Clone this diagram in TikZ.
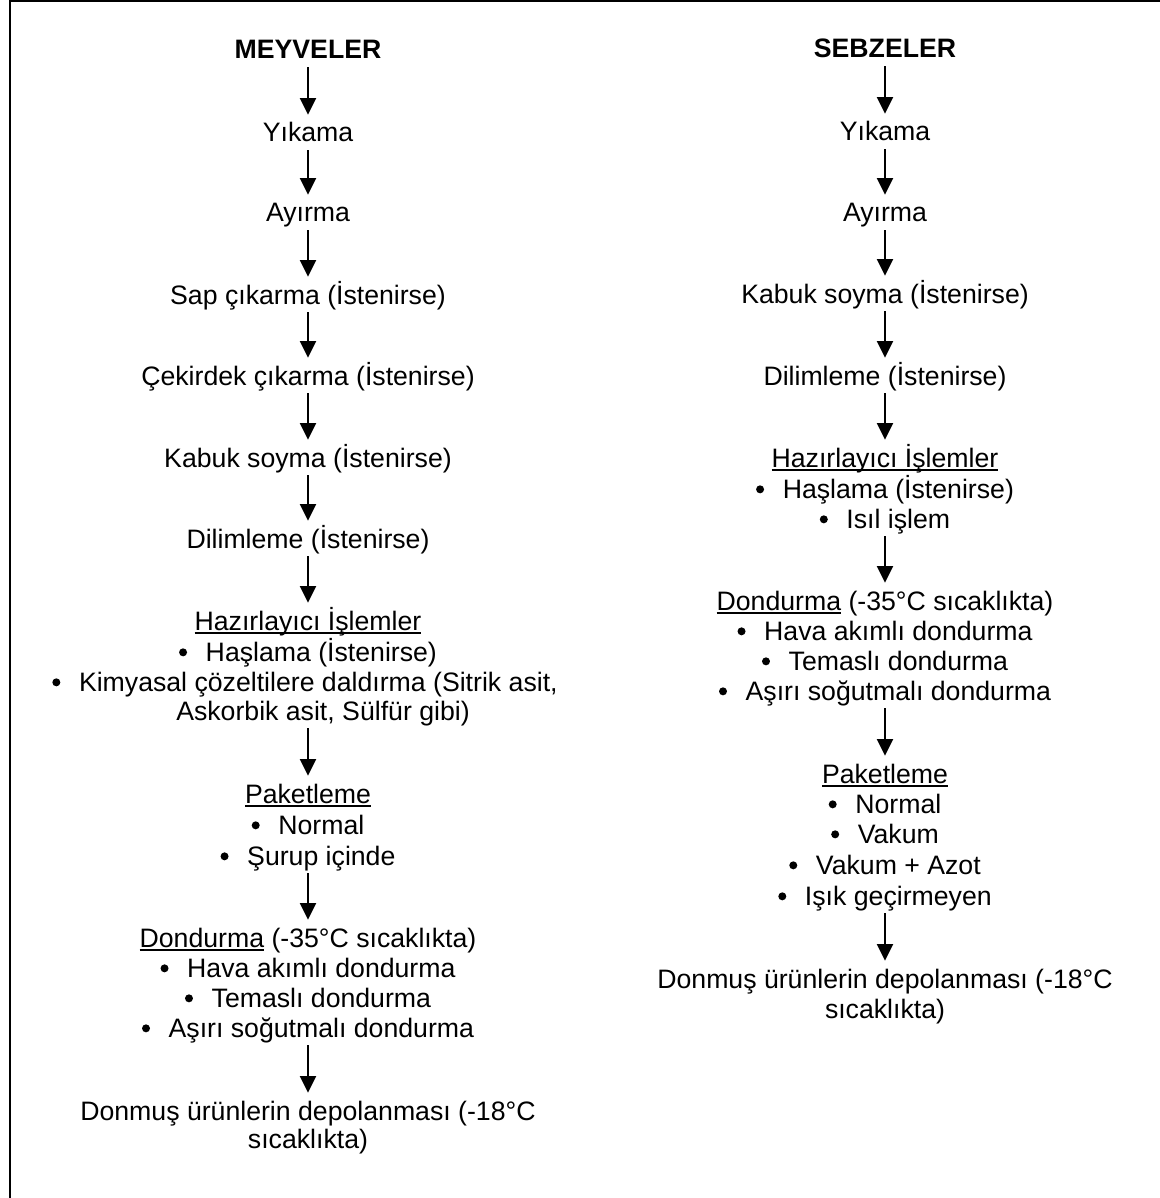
\documentclass[tikz,border=0pt]{standalone}
\usepackage{fontspec}
\setmainfont{Liberation Sans}
\usetikzlibrary{arrows.meta}
\newcommand\ulw[1]{\setbox0\hbox{#1}\rlap{\rule[-2.85pt]{\wd0}{1.6pt}}\box0\relax}
\newcommand\bulitem{\tikz[baseline=0pt]\fill (3pt,6.5pt) circle[radius=3pt];\hspace{14pt}}
\tikzset{
  txt/.style={anchor=base, inner sep=0pt, text height=20.25pt, text depth=6pt,
              font=\fontsize{20}{22.5}\selectfont},
  arr/.style={line width=1.7pt, -{Triangle[width=12pt,length=12.5pt]}},
  frame/.style={line width=1.5pt}
}
\begin{document}
\begin{tikzpicture}[x=0.75pt, y=-0.75pt]
\useasboundingbox (0,0) rectangle (1159,1198);
\fill[white] (0,0) rectangle (1159,1198);
\coordinate (fa) at (10,1210);
\coordinate (fb) at (10,1.5);
\coordinate (fc) at (1170,1.5);
\draw[frame] (fa) -- (fb) -- (fc);

% ---------------- MEYVELER ----------------
\node[txt] (mT) at (308,59) {\textbf{MEYVELER}};
\node[txt] (m1) at (308,142) {Yıkama};
\node[txt] (m2) at (308,222) {Ayırma};
\node[txt] (m3) at (308,304) {Sap çıkarma (İstenirse)};
\node[txt] (m4) at (308,385) {Çekirdek çıkarma (İstenirse)};
\node[txt] (m5) at (308,467) {Kabuk soyma (İstenirse)};
\node[txt] (m6) at (308,548) {Dilimleme (İstenirse)};
\node[txt] (m7) at (308,630) {\ulw{Hazırlayıcı İşlemler}};
\node[txt] (m7a) at (308,661) {\bulitem Haşlama (İstenirse)};
\node[txt] (m7b) at (305,691) {\bulitem Kimyasal çözeltilere daldırma (Sitrik asit,};
\node[txt] (m7c) at (323,720) {Askorbik asit, Sülfür gibi)};
\node[txt] (m8) at (308,803) {\ulw{Paketleme}};
\node[txt] (m8a) at (308,834) {\bulitem Normal};
\node[txt] (m8b) at (308,865) {\bulitem Şurup içinde};
\node[txt] (m9) at (308,947) {\ulw{Dondurma} (-35°C sıcaklıkta)};
\node[txt] (m9a) at (308,977) {\bulitem Hava akımlı dondurma};
\node[txt] (m9b) at (308,1007) {\bulitem Temaslı dondurma};
\node[txt] (m9c) at (308,1037) {\bulitem Aşırı soğutmalı dondurma};
\node[txt] (m10) at (308,1120) {Donmuş ürünlerin depolanması (-18°C};
\node[txt] (m10b) at (308,1148) {sıcaklıkta)};

\draw[arr] (mT.south) -- (m1.north);
\draw[arr] (m1.south) -- (m2.north);
\draw[arr] (m2.south) -- (m3.north);
\draw[arr] (m3.south) -- (m4.north);
\draw[arr] (m4.south) -- (m5.north);
\draw[arr] (m5.south) -- (m6.north);
\draw[arr] (m6.south) -- (m7.north);
\draw[arr] (m7c.south -| m8.north) -- (m8.north);
\draw[arr] (m8b.south) -- (m9.north);
\draw[arr] (m9c.south) -- (m10.north);

% ---------------- SEBZELER ----------------
\node[txt] (sT) at (885,58) {\textbf{SEBZELER}};
\node[txt] (s1) at (885,141) {Yıkama};
\node[txt] (s2) at (885,222) {Ayırma};
\node[txt] (s3) at (885,303) {Kabuk soyma (İstenirse)};
\node[txt] (s4) at (885,385) {Dilimleme (İstenirse)};
\node[txt] (s5) at (885,467) {\ulw{Hazırlayıcı İşlemler}};
\node[txt] (s5a) at (885,498) {\bulitem Haşlama (İstenirse)};
\node[txt] (s5b) at (885,528) {\bulitem Isıl işlem};
\node[txt] (s6) at (885,610) {\ulw{Dondurma} (-35°C sıcaklıkta)};
\node[txt] (s6a) at (885,640) {\bulitem Hava akımlı dondurma};
\node[txt] (s6b) at (885,670) {\bulitem Temaslı dondurma};
\node[txt] (s6c) at (885,700) {\bulitem Aşırı soğutmalı dondurma};
\node[txt] (s7) at (885,783) {\ulw{Paketleme}};
\node[txt] (s7a) at (885,813) {\bulitem Normal};
\node[txt] (s7b) at (885,843) {\bulitem Vakum};
\node[txt] (s7c) at (885,874) {\bulitem Vakum + Azot};
\node[txt] (s7d) at (885,905) {\bulitem Işık geçirmeyen};
\node[txt] (s8) at (885,988) {Donmuş ürünlerin depolanması (-18°C};
\node[txt] (s8b) at (885,1018) {sıcaklıkta)};

\draw[arr] (sT.south) -- (s1.north);
\draw[arr] (s1.south) -- (s2.north);
\draw[arr] (s2.south) -- (s3.north);
\draw[arr] (s3.south) -- (s4.north);
\draw[arr] (s4.south) -- (s5.north);
\draw[arr] (s5b.south) -- (s6.north);
\draw[arr] (s6c.south) -- (s7.north);
\draw[arr] (s7d.south) -- (s8.north);
\end{tikzpicture}
\end{document}
